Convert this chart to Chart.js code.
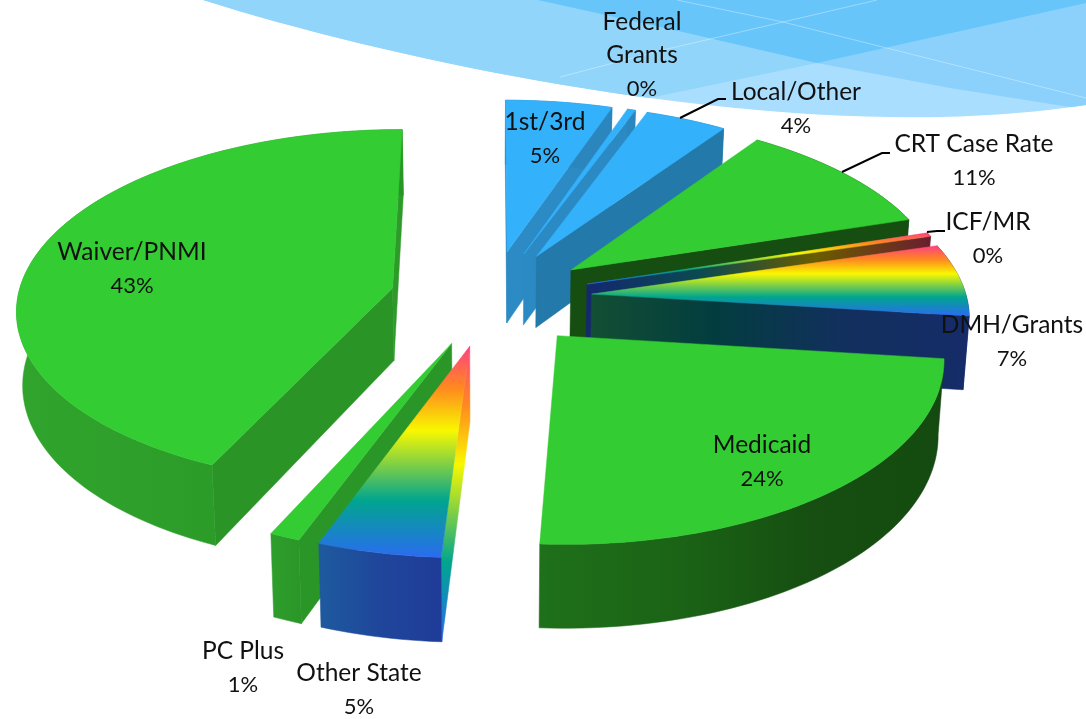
<!DOCTYPE html>
<html>
<head>
<meta charset="utf-8">
<title>Revenue by source</title>
<script src="https://cdn.jsdelivr.net/npm/chart.js@4"></script>
<style>
  html, body { margin: 0; padding: 0; background: #fff; }
  #wrap { position: relative; width: 1086px; height: 719px; }
</style>
</head>
<body>
<div id="wrap"><canvas id="pie-chart" width="1086" height="719"></canvas></div>
<script>
// values, percent of total
var labels = ['1st/3rd', 'Federal\nGrants', 'Local/Other', 'CRT Case Rate', 'ICF/MR', 'DMH/Grants', 'Medicaid', 'Other State', 'PC Plus', 'Waiver/PNMI'];
var values = [5.2, 0.4, 4, 10.5, 0.35, 6.5, 24, 4.65, 1.15, 43.25];

// face colours per slice. 'rainbow' is the vertical multi colour fill
var topFaces = ['#33b1fb', '#33b1fb', '#33b1fb', '#33cc33', 'rainbow', 'rainbow', '#33cc33', 'rainbow', '#33cc33', '#33cc33'];
var outerWalls = [['#2b86bd'], ['#2b86bd'], ['#2379a9'], ['#164d10'], ['#6a1f2e'], ['#152c68'],
  ['#1f701a', '#1b6416', '#164f11', '#144a0f'], ['#1e5a9e', '#1f469b', '#1f3c98'], ['#2e9e2c', '#2a9628'], ['#30a42d', '#2c9c29', '#2a9427']];
var startWalls = [['#2b86bd'], ['#2b86bd'], ['#2379a9'], ['#164d10'], ['#6a1f2e'], ['#152c68'], ['#1a5c14'], 'rainbow', ['#2a9628'], ['#2a9427']];
var endWalls = [['#2c8bc5'], ['#2b8ac4'], ['#2379a9'], ['#164d10'], ['#14286f', '#0a4a50', '#6a5c00', '#6a1f2e'],
  ['#124f33', '#033c3f', '#12305e', '#152c68'], ['#1a5c14'], ['#1f469b'], ['#2a9628'], ['#2d9a2a']];
var rainbowStops = [[0, '#ff4081'], [0.2, '#ff8a1e'], [0.4, '#f8f800'], [0.73, '#00a58e'], [1, '#2a6cf0']];

// where each label sits: x centre, middle of first line
var labelSpots = [[545, 122], [642, 22], [796, 92], [974, 144], [988, 222], [1012, 325], [762, 445], [359, 673], [243, 651], [132, 252]];
var leaders = [
  [[680, 118], [718, 99], [726, 99]],
  [[842, 172], [882, 153], [890, 153]],
  [[927, 232], [937, 231], [945, 231]]
];

// view of the pie plane
var view = { cx: 491, cy: 298, a: 375, b: 177.5, persp: 0.1077, depth: 73, taper: 0.013 };

function project(u, v, z) {
  var t = 1 / (1 - view.persp * v);
  return {
    x: view.cx + view.a * u * t * (1 - view.taper * z),
    y: view.cy + (view.b * v + view.depth * z) * t
  };
}

function pathOf(ctx, pts) {
  ctx.beginPath();
  pts.forEach(function(p, i) { if (i) ctx.lineTo(p.x, p.y); else ctx.moveTo(p.x, p.y); });
  ctx.closePath();
}

function fillOf(ctx, spec, pts) {
  var xs = pts.map(function(p) { return p.x; });
  var ys = pts.map(function(p) { return p.y; });
  var g;
  if (spec === 'rainbow') {
    g = ctx.createLinearGradient(0, Math.min.apply(null, ys), 0, Math.max.apply(null, ys));
    rainbowStops.forEach(function(s) { g.addColorStop(s[0], s[1]); });
    return g;
  }
  if (typeof spec === 'string') return spec;
  if (spec.length === 1) return spec[0];
  g = ctx.createLinearGradient(Math.min.apply(null, xs), 0, Math.max.apply(null, xs), 0);
  spec.forEach(function(c, i) { g.addColorStop(i / (spec.length - 1), c); });
  return g;
}

function face(ctx, pts, spec) {
  pathOf(ctx, pts);
  ctx.fillStyle = fillOf(ctx, spec, pts);
  ctx.fill();
  // hairline so neighbouring faces do not show a seam
  ctx.strokeStyle = ctx.fillStyle;
  ctx.lineWidth = 0.5;
  ctx.stroke();
}

function area(pts) {
  var sum = 0;
  pts.forEach(function(p, i) {
    var q = pts[(i + 1) % pts.length];
    sum += p.x * q.y - q.x * p.y;
  });
  return sum;
}

var banner = {
  id: 'banner',
  beforeDraw: function(chart) {
    var ctx = chart.ctx;
    ctx.save();
    // sky shape, lower edge is one long curve
    ctx.beginPath();
    ctx.moveTo(203, 0);
    ctx.bezierCurveTo(400, 62, 700, 122, 940, 117);
    ctx.quadraticCurveTo(1020, 115, 1086, 105);
    ctx.lineTo(1086, 0);
    ctx.closePath();
    ctx.fillStyle = '#a9defe';
    ctx.fill();
    ctx.clip();

    ctx.fillStyle = '#92d5fb';
    ctx.beginPath();
    ctx.moveTo(200, 0); ctx.lineTo(200, 130); ctx.lineTo(640, 100); ctx.lineTo(817, 63); ctx.lineTo(1086, 3); ctx.lineTo(1086, 0);
    ctx.closePath();
    ctx.fill();

    ctx.save();
    ctx.beginPath();
    ctx.moveTo(538, 0); ctx.lineTo(683, 32); ctx.lineTo(817, 63); ctx.lineTo(950, 88); ctx.lineTo(1076, 108); ctx.lineTo(1086, 108); ctx.lineTo(1086, 0);
    ctx.closePath();
    ctx.fillStyle = '#8bd1fb';
    ctx.fill();
    ctx.clip();
    ctx.beginPath();
    ctx.moveTo(500, 0); ctx.lineTo(640, 100); ctx.lineTo(817, 63); ctx.lineTo(1086, 3); ctx.lineTo(1086, 0);
    ctx.closePath();
    ctx.fillStyle = '#67c5fa';
    ctx.fill();
    ctx.restore();

    ctx.strokeStyle = 'rgba(255,255,255,0.35)';
    ctx.lineWidth = 1;
    ctx.beginPath();
    ctx.moveTo(677, 0); ctx.lineTo(783, 22); ctx.lineTo(1086, 98);
    ctx.moveTo(560, 77); ctx.lineTo(663, 50); ctx.lineTo(783, 22); ctx.lineTo(877, 0);
    ctx.stroke();
    ctx.restore();
  }
};

var pie3d = {
  id: 'pie3d',
  afterDatasetsDraw: function(chart) {
    var ctx = chart.ctx;
    var arcs = chart.getDatasetMeta(0).data;
    var order = arcs.map(function(arc, i) {
      var a = (arc.startAngle + arc.endAngle) / 2;
      return { i: i, depth: Math.sin(a) };
    }).sort(function(p, q) { return p.depth - q.depth; });

    ctx.save();
    order.forEach(function(o) {
      var arc = arcs[o.i];
      var R = arc.outerRadius;
      var mid = (arc.startAngle + arc.endAngle) / 2;
      var off = arc.options.offset / R;
      var ou = Math.cos(mid) * off, ov = Math.sin(mid) * off;
      var steps = Math.max(2, Math.ceil((arc.endAngle - arc.startAngle) * 40));
      var rim = [];
      for (var s = 0; s <= steps; s++) {
        var ang = arc.startAngle + (arc.endAngle - arc.startAngle) * s / steps;
        rim.push([ou + Math.cos(ang), ov + Math.sin(ang)]);
      }
      var rimTop = rim.map(function(p) { return project(p[0], p[1], 0); });
      var rimLow = rim.map(function(p) { return project(p[0], p[1], 1); });
      var tipTop = project(ou, ov, 0), tipLow = project(ou, ov, 1);
      var last = rim.length - 1;

      // only the walls that face the viewer
      var startQuad = [tipTop, rimTop[0], rimLow[0], tipLow];
      var endQuad = [tipTop, rimTop[last], rimLow[last], tipLow];
      if (area(startQuad) < 0) face(ctx, startQuad, startWalls[o.i]);
      if (area(endQuad) > 0) face(ctx, endQuad, endWalls[o.i]);
      face(ctx, rimTop.concat(rimLow.slice().reverse()), outerWalls[o.i]);
      face(ctx, [tipTop].concat(rimTop), topFaces[o.i]);
    });
    ctx.restore();

    // labels and leader lines
    ctx.save();
    ctx.fillStyle = '#111';
    ctx.textAlign = 'center';
    ctx.textBaseline = 'middle';
    labels.forEach(function(name, i) {
      var lines = name.split('\n');
      ctx.font = '24.5px Lato, "Open Sans", sans-serif';
      lines.forEach(function(txt, k) {
        ctx.fillText(txt, labelSpots[i][0], labelSpots[i][1] + k * 33.5);
      });
      ctx.font = '22px Lato, "Open Sans", sans-serif';
      ctx.fillText(Math.round(values[i]) + '%', labelSpots[i][0], labelSpots[i][1] + lines.length * 33.5);
    });
    ctx.strokeStyle = '#000';
    ctx.lineWidth = 2;
    leaders.forEach(function(l) {
      ctx.beginPath();
      l.forEach(function(p, i) { if (i) ctx.lineTo(p[0], p[1]); else ctx.moveTo(p[0], p[1]); });
      ctx.stroke();
    });
    ctx.restore();
  }
};

new Chart(document.getElementById('pie-chart'), {
  type: 'pie',
  data: {
    labels: labels,
    datasets: [{
      data: values,
      backgroundColor: 'rgba(0,0,0,0)',
      borderWidth: 0,
      offset: 85.5
    }]
  },
  options: {
    responsive: false,
    animation: false,
    rotation: 0,
    plugins: {
      legend: { display: false },
      tooltip: { enabled: false }
    }
  },
  plugins: [banner, pie3d]
});
</script>
</body>
</html>
